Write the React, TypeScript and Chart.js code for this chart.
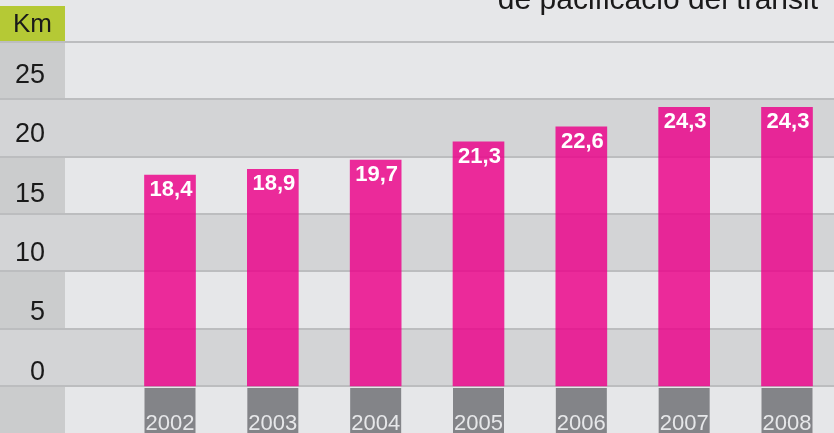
import React, { useEffect, useRef } from "react";
import { Chart, registerables } from "chart.js";

Chart.register(...registerables);

const categories = ["2002", "2003", "2004", "2005", "2006", "2007", "2008"];
const values = [18.4, 18.9, 19.7, 21.3, 22.6, 24.3, 24.3];
const yTicks = [0, 5, 10, 15, 20, 25];
const yMax = 30;
const unitLabel = "Km";
const titleText = "de pacificació del trànsit";

const LIGHT = "#e6e7e9";
const DARK = "#d3d4d6";
const COL = "#cbcccd";
const GREEN = "#b5c935";
const LINE = "#bcbdbf";
const BAR = "rgba(236,0,137,0.82)";
const XBOX = "#838488";
const FONT = "'Liberation Sans', Arial, Helvetica, sans-serif";

const fmt = (v: number) => v.toFixed(1).replace(".", ",");

const decorPlugin = {
  id: "decor",
  beforeDraw(chart: any) {
    const { ctx, width, height } = chart;
    const y = chart.scales.y;
    const leftCol = 65;
    ctx.save();
    ctx.fillStyle = LIGHT;
    ctx.fillRect(0, 0, width, height);
    yTicks.forEach((v, i) => {
      const top = y.getPixelForValue(v + 5);
      const bot = y.getPixelForValue(v);
      if (i % 2 === 0) {
        ctx.fillStyle = DARK;
        ctx.fillRect(0, top, width, bot - top);
      } else {
        ctx.fillStyle = COL;
        ctx.fillRect(0, top, leftCol, bot - top);
      }
    });
    const y0 = y.getPixelForValue(0);
    ctx.fillStyle = COL;
    ctx.fillRect(0, y0, leftCol, height - y0);
    const yTop = y.getPixelForValue(yMax);
    ctx.fillStyle = GREEN;
    ctx.fillRect(0, 6, leftCol, yTop - 6);
    ctx.fillStyle = LINE;
    for (let v = 0; v <= yMax; v += 5) {
      const py = y.getPixelForValue(v);
      ctx.fillRect(0, Math.round(py) - 1, width, 2);
    }
    ctx.fillStyle = "#1a1a1a";
    ctx.font = `27px ${FONT}`;
    ctx.textAlign = "right";
    ctx.textBaseline = "middle";
    yTicks.forEach((v) => {
      const py = y.getPixelForValue(v * 1.035 + 1.2);
      ctx.fillText(String(v), 45, py);
    });
    ctx.textAlign = "center";
    ctx.font = `26px ${FONT}`;
    ctx.fillText(unitLabel, leftCol / 2, (6 + yTop) / 2 + 1);
    ctx.textAlign = "right";
    ctx.textBaseline = "alphabetic";
    ctx.font = `30px ${FONT}`;
    ctx.fillStyle = "#1a1a1a";
    ctx.fillText(titleText, 818, 9);
    ctx.restore();
  },
  afterDatasetsDraw(chart: any) {
    const { ctx, height } = chart;
    const y = chart.scales.y;
    const meta = chart.getDatasetMeta(0);
    const y0 = y.getPixelForValue(0);
    ctx.save();
    meta.data.forEach((bar: any, i: number) => {
      const w = bar.width;
      ctx.fillStyle = XBOX;
      ctx.fillRect(bar.x - w / 2, y0 + 2, w, height - y0 - 2);
      ctx.fillStyle = LIGHT;
      ctx.font = `22px ${FONT}`;
      ctx.textAlign = "center";
      ctx.textBaseline = "alphabetic";
      ctx.fillText(categories[i], bar.x, height - 3);
      ctx.fillStyle = "#ffffff";
      ctx.font = `bold 22px ${FONT}`;
      ctx.fillText(fmt(values[i]), bar.x + 1, bar.y + 21);
    });
    ctx.restore();
  },
};

export default function App() {
  const ref = useRef<HTMLCanvasElement>(null);
  useEffect(() => {
    document.body.style.margin = "0";
    const chart = new Chart(ref.current as HTMLCanvasElement, {
      type: "bar",
      data: {
        labels: categories,
        datasets: [
          {
            data: values,
            backgroundColor: BAR,
            borderWidth: 0,
            barThickness: 51,
            clip: false,
          } as any,
        ],
      },
      options: {
        responsive: false,
        animation: false,
        devicePixelRatio: 1,
        layout: { padding: { left: 170, right: 47, top: 42, bottom: 47 } },
        scales: {
          x: { display: false, offset: false },
          y: { display: false, min: 0, max: yMax },
        },
        plugins: {
          legend: { display: false },
          tooltip: { enabled: false },
        },
      },
      plugins: [decorPlugin],
    });
    return () => chart.destroy();
  }, []);
  return (
    <div style={{ width: 834, height: 433 }}>
      <canvas ref={ref} width={834} height={433} style={{ display: "block" }} />
    </div>
  );
}
